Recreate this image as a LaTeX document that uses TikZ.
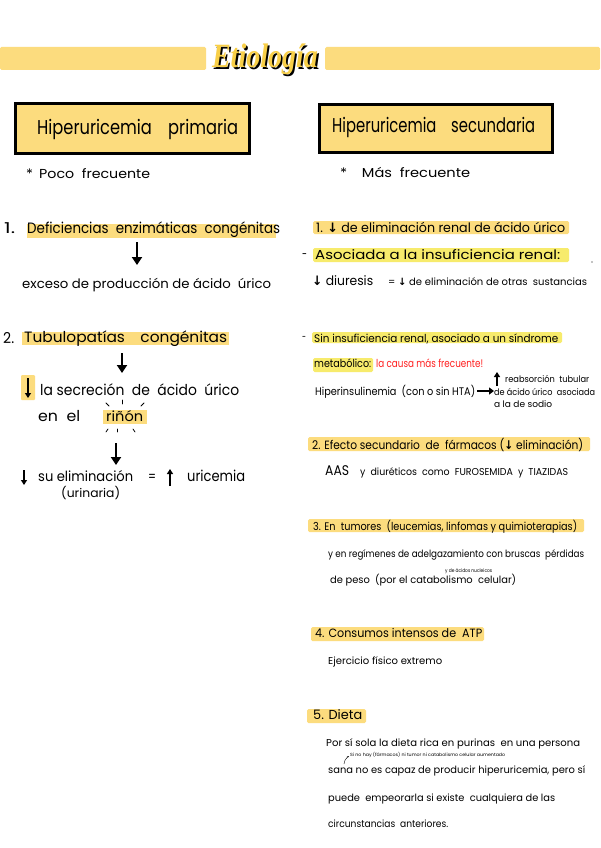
\documentclass[tikz,border=0pt]{standalone}
\usepackage{fontspec}
\usepackage{graphicx}
\setmainfont{Poppins}
\newfontfamily\sym{DejaVu Sans}
\newfontfamily\titlefont{Liberation Serif}
\usetikzlibrary{arrows.meta}
\definecolor{hy}{HTML}{FCDC7E}
\definecolor{hl}{HTML}{F7EB6C}
\definecolor{ty}{HTML}{F8CF48}
\definecolor{rd}{HTML}{FF1F1F}
\newcommand{\T}[5]{\node[txt,font=\fontsize{#4}{#4}\selectfont] (#1) at (#2) {\resizebox{#3pt}{\height}{#5}};}
\newcommand{\dn}{{\sym\bfseries ↓}}
\newcommand{\titleword}{\resizebox{106pt}{\height}{Etiología}}
\begin{document}
\begin{tikzpicture}[x=1pt,y=-1pt,
  txt/.style={anchor=base west,inner sep=0pt},
  bigarrow/.style={line width=2.6pt,-{Triangle[length=8pt,width=10pt]}},
  smallarrow/.style={line width=1.6pt,-{Triangle[length=5pt,width=6pt]}},
  hbox/.style={draw,line width=2.6pt,fill=hy,anchor=north west,inner sep=0pt},
  spark/.style={line width=0.8pt,line cap=round}]
\useasboundingbox[fill=white] (0,0) rectangle (600,848);

% title
\fill[hy,rounded corners=1.5pt] (0,47) rectangle (206,70);
\fill[hy,rounded corners=1.5pt] (325,47) rectangle (600,70);
\node[anchor=base,inner sep=0pt,font=\titlefont\bfseries\itshape\fontsize{34}{34}\selectfont] (title) at (265,68)
  {\rlap{\hspace{1.8pt}\raisebox{-1.6pt}{\textcolor{black}{\titleword}}}\textcolor{ty}{\titleword}};

% boxes
\node[hbox,minimum width=234pt,minimum height=50pt] (bp) at (14,102) {};
\node[hbox,minimum width=233pt,minimum height=48pt] (bs) at (318,103) {};
\T{bpt}{37,135}{201}{20}{Hiperuricemia\quad primaria}
\T{bst}{332,133}{203}{20}{Hiperuricemia\quad secundaria}
\T{pf}{26,178}{124}{13}{*\, Poco\ \ frecuente}
\T{mf}{340,178}{130}{13}{*\quad Más\ \ frecuente}

% left 1
\T{n1}{4,233}{11}{15}{1.}
\fill[hy] (27,224) rectangle (276,238);
\T{h1}{27,233}{253}{15}{Deficiencias\ \ enzimáticas\ \ congénitas}
\coordinate (a1s) at (137,242);
\coordinate (a1e) at (137,265);
\draw[bigarrow] (a1s) -- (a1e);
\T{ex}{22,288}{249}{13}{exceso de producción de ácido\ \ úrico}

% left 2
\T{n2}{3,343}{11}{15}{2.}
\fill[hy] (22,332) rectangle (229,345);
\T{h2}{24,342}{203}{15}{Tubulopatías\quad congénitas}
\coordinate (a2s) at (122,353);
\coordinate (a2e) at (122,373);
\draw[bigarrow] (a2s) -- (a2e);
\fill[hy,rounded corners=1pt] (21,375) rectangle (35,400);
\coordinate (d1s) at (28,378);
\coordinate (d1e) at (28,398);
\draw[smallarrow,line width=2.2pt] (d1s) -- (d1e);
\T{sec}{40,395}{199}{15}{la secreción\ \ de\ \ ácido\ \ úrico}
\T{enel}{38,421}{42}{15}{en\ \ el}
\fill[hy] (103,410) rectangle (147,424);
\T{rin}{106,421}{37}{14}{riñón}
\draw[spark] (106,403) -- (109,406);
\draw[spark] (122,400) -- (122,404);
\draw[spark] (144,403) -- (141,406);
\draw[spark] (108,429) -- (106,432);
\draw[spark] (117,429) -- (117,432);
\draw[spark] (133,429) -- (135,432);
\coordinate (a3s) at (116,443);
\coordinate (a3e) at (116,465);
\draw[bigarrow] (a3s) -- (a3e);
\coordinate (d2s) at (24,470);
\coordinate (d2e) at (24,485);
\draw[smallarrow] (d2s) -- (d2e);
\T{su}{38,481}{95}{14}{su eliminación}
\T{eq}{148,481}{8}{14}{=}
\coordinate (u1s) at (170,486);
\coordinate (u1e) at (170,469);
\draw[smallarrow,line width=2.4pt] (u1s) -- (u1e);
\T{uri}{187,481}{58}{15}{uricemia}
\T{urin}{61,497}{59}{12}{(urinaria)}

% right 1
\fill[hy,rounded corners=1.5pt] (313,221) rectangle (569,234);
\T{r1}{316,232}{249}{13}{1. \dn\ de eliminación renal de ácido úrico}
\T{dash1}{302,258}{5}{12}{-}
\fill[hl,rounded corners=1.5pt] (313,248) rectangle (569,262);
\T{r1a}{315,259}{245}{13}{Asociada a la insuficiencia renal:}
\fill (592,262) circle (0.7);
\T{diu}{312,285}{61}{13}{\dn\ diuresis}
\T{diu2}{388,285}{199}{10}{=\ \dn\ de eliminación de otras\ \ sustancias}

\T{dash2}{302,340}{4}{10}{-}
\fill[hl,rounded corners=1.5pt] (312,332) rectangle (562,343);
\T{sin}{314,342}{244}{11}{Sin insuficiencia renal, asociado a un síndrome}
\fill[hl,rounded corners=1.5pt] (313,358) rectangle (373,372);
\T{met}{314,367}{57}{11}{metabólico:}
\T{red}{376,367}{107}{11}{\textcolor{rd}{la causa más frecuente!}}
\T{hip}{315,395}{160}{11}{Hiperinsulinemia\ \ (con o sin HTA)}
\coordinate (imp1) at (477,391);
\coordinate (imp2) at (494,391);
\draw[line width=1.8pt,-{Triangle[length=5pt,width=7pt]}] (imp1) -- (imp2);
\coordinate (u2s) at (497,386);
\coordinate (u2e) at (497,372);
\draw[smallarrow,line width=1.8pt] (u2s) -- (u2e);
\T{reab}{505,382}{84}{9}{reabsorción\ \ tubular}
\T{deac}{494,395}{101}{9}{de ácido úrico\ \ asociada}
\T{sod}{494,407}{58}{9}{a la de sodio}

% right 2
\fill[hy,rounded corners=1.5pt] (308,437) rectangle (590,451);
\T{r2}{312,449}{271}{12}{2. Efecto secundario\ \ de\ \ fármacos (\dn\ eliminación)}
\T{aas}{325,475}{24}{14}{AAS}
\T{aas2}{360,475}{208}{10}{y\ \ diuréticos\ \ como\ \ FUROSEMIDA\ \ y\ \ TIAZIDAS}

% right 3
\fill[hy,rounded corners=1.5pt] (308,519) rectangle (584,532);
\T{r3}{313,530}{264}{11}{3. En\ \ tumores\ \ (leucemias, linfomas y quimioterapias)}
\T{r3a}{328,557}{256}{10}{y en regímenes de adelgazamiento con bruscas\ \ pérdidas}
\T{r3b}{330,583}{186}{10}{de peso\ \ (por el catabolismo\ \ celular)}
\T{r3c}{445,572}{47}{5}{y de ácidos nucleicos}

% right 4
\fill[hy,rounded corners=1.5pt] (311,627) rectangle (484,641);
\T{r4}{315,637}{167}{12}{4. Consumos intensos de\ \ ATP}
\T{r4a}{328,664}{114}{10}{Ejercicio físico extremo}

% right 5
\fill[hy,rounded corners=1.5pt] (307,709) rectangle (366,723);
\T{r5}{313,719}{49}{13}{5. Dieta}
\T{r5a}{326,746}{254}{10}{Por sí sola la dieta rica en purinas\ \ en una persona}
\T{r5n}{350,756}{155}{4.5}{Si no hay (fármacos) ni tumor ni catabolismo celular aumentado}
\coordinate (c1) at (344,764);
\coordinate (c2) at (349,756);
\draw[line width=0.4pt,-{Stealth[length=2pt]}] (c1) to[bend left=25] (c2);
\T{r5b}{328,773}{257}{10}{sana no es capaz de producir hiperuricemia, pero sí}
\T{r5c}{328,801}{227}{10}{puede\ \ empeorarla\ si existe\ \ cualquiera de las}
\T{r5d}{328,827}{120}{10}{circunstancias\ \ anteriores.}
\end{tikzpicture}
\end{document}
